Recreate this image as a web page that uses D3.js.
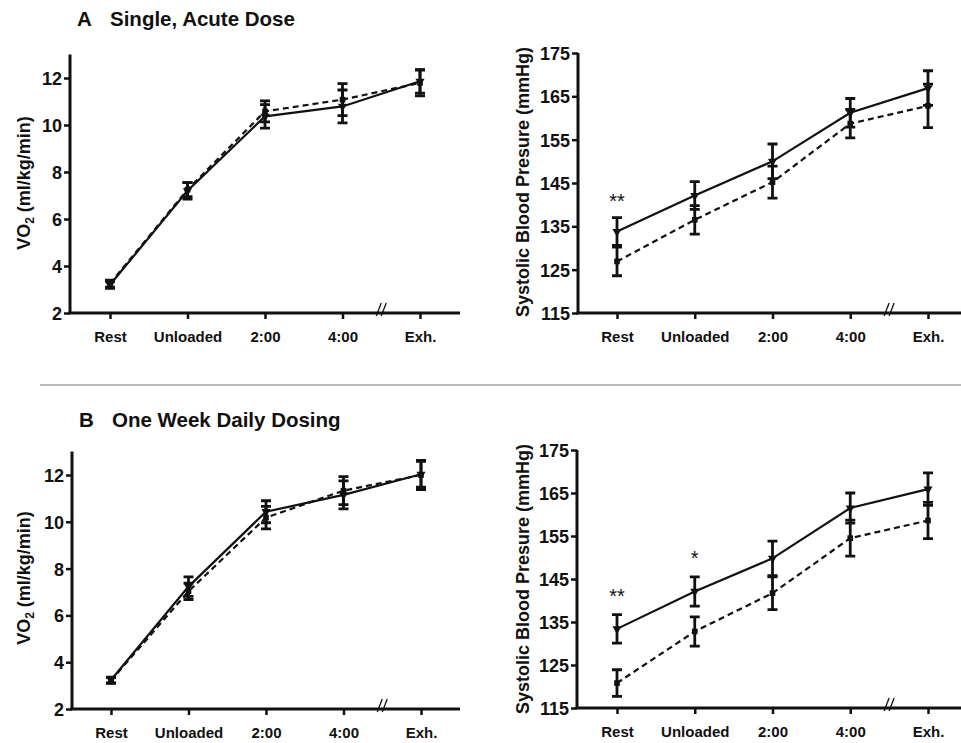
<!DOCTYPE html>
<html>
<head>
<meta charset="utf-8">
<script src="https://cdn.jsdelivr.net/npm/d3@7/dist/d3.min.js"></script>
<style>
  html, body { margin: 0; padding: 0; background: #fff; }
  svg { display: block; font-family: "Liberation Sans", Arial, sans-serif; }
  .tick-lab { font-weight: bold; font-size: 18px; fill: #111; }
  .x-lab { font-weight: bold; font-size: 15px; fill: #111; }
  .y-title { font-weight: bold; font-size: 18px; fill: #111; }
  .p-title { font-weight: bold; font-size: 20.5px; fill: #111; }
  .star { font-size: 20px; fill: #111; }
</style>
</head>
<body>
<div id="chart"></div>
<script>
// categories along the exercise protocol
const stages = ["Rest", "Unloaded", "2:00", "4:00", "Exh."];
const vo2Ticks = [2, 4, 6, 8, 10, 12];
const sbpTicks = [115, 125, 135, 145, 155, 165, 175];

// A: single acute dose (solid / dashed), mean and error
const vo2A_solid = [3.2, 7.2, 10.37, 10.79, 11.86];
const vo2A_solidErr = [0.15, 0.35, 0.5, 0.7, 0.5];
const vo2A_dash = [3.25, 7.25, 10.58, 11.08, 11.79];
const vo2A_dashErr = [0.15, 0.3, 0.45, 0.68, 0.55];
const sbpA_solid = [133.8, 142.1, 150.0, 161.2, 166.9];
const sbpA_solidErr = [3.2, 3.2, 4.0, 3.3, 4.0];
const sbpA_dash = [126.9, 136.5, 145.2, 158.7, 162.8];
const sbpA_dashErr = [3.3, 3.3, 3.7, 3.3, 5.0];

// B: one week daily dosing
const vo2B_solid = [3.24, 7.23, 10.43, 11.15, 12.03];
const vo2B_solidErr = [0.12, 0.42, 0.47, 0.6, 0.55];
const vo2B_dash = [3.22, 7.03, 10.18, 11.33, 12.0];
const vo2B_dashErr = [0.12, 0.35, 0.48, 0.6, 0.62];
const sbpB_solid = [133.4, 142.1, 149.8, 161.5, 165.9];
const sbpB_solidErr = [3.3, 3.4, 4.0, 3.5, 3.8];
const sbpB_dash = [120.8, 132.8, 141.7, 154.5, 158.6];
const sbpB_dashErr = [3.1, 3.4, 3.8, 4.2, 4.2];

const starsA = [["Rest", "**"]];
const starsB = [["Rest", "**"], ["Unloaded", "*"]];

const W = 961, H = 743;
const svg = d3.select("#chart").append("svg").attr("width", W).attr("height", H);

function panel(o) {
  const g = svg.append("g");
  const x = d3.scalePoint().domain(stages).range([o.x0, o.x1]);
  const y = d3.scaleLinear().domain(o.dom).range([o.yb, o.yt]);
  const yTop = y(o.top);

  // error bars + lines
  const series = [
    { v: o.dash, e: o.dashErr, dash: "6 4", sym: d3.symbolSquare, rot: 0 },
    { v: o.solid, e: o.solidErr, dash: null, sym: d3.symbolTriangle, rot: 180 }
  ];
  series.forEach((s) => {
    const pts = stages.map((c, i) => ({ c, v: s.v[i], e: s.e[i] }));
    g.append("g").selectAll("path").data(pts).join("path")
      .attr("d", (d) => {
        const cx = x(d.c), hi = y(d.v + d.e), lo = y(d.v - d.e);
        return `M${cx},${hi}V${lo}M${cx - 5},${hi}H${cx + 5}M${cx - 5},${lo}H${cx + 5}`;
      })
      .attr("stroke", "#111").attr("stroke-width", 2.8).attr("fill", "none");
    g.append("path").datum(pts)
      .attr("d", d3.line().x((d) => x(d.c)).y((d) => y(d.v)))
      .attr("fill", "none").attr("stroke", "#111").attr("stroke-width", 2.2)
      .attr("stroke-dasharray", s.dash);
    g.append("g").selectAll("path").data(pts).join("path")
      .attr("transform", (d) => `translate(${x(d.c)},${y(d.v)}) rotate(${s.rot})`)
      .attr("d", d3.symbol().type(s.sym).size(s.sym === d3.symbolSquare ? 32 : 36))
      .attr("fill", "#111");
  });

  // y axis
  const ya = g.append("g").attr("transform", `translate(${o.ax},0)`)
    .call(d3.axisLeft(y).tickValues(o.ticks).tickSize(6).tickSizeOuter(0).tickPadding(2));
  ya.select(".domain").attr("d", `M0,${yTop}V${o.yb}`).attr("stroke", "#111").attr("stroke-width", 3);
  ya.selectAll(".tick line").attr("stroke", "#111").attr("stroke-width", 2.5);
  ya.selectAll(".tick text").attr("class", "tick-lab").attr("dy", "0.36em");

  // x axis
  const xa = g.append("g").attr("transform", `translate(0,${o.yb})`)
    .call(d3.axisBottom(x).tickSize(6).tickSizeOuter(0).tickPadding(12));
  xa.select(".domain").attr("d", `M${o.ax - 1.5},0H${o.xEnd}`).attr("stroke", "#111").attr("stroke-width", 3);
  xa.selectAll(".tick line").attr("stroke", "#111").attr("stroke-width", 2.5);
  xa.selectAll(".tick text").attr("class", "x-lab").attr("dy", o.xdy);

  // axis break mark
  const bx = (x("4:00") + x("Exh.")) / 2;
  [-2.5, 2.5].forEach((dx) => {
    g.append("line").attr("x1", bx + dx - 2.5).attr("y1", o.yb + 3)
      .attr("x2", bx + dx + 2.5).attr("y2", o.yb - 10)
      .attr("stroke", "#111").attr("stroke-width", 1.3);
  });

  // y title
  const t = g.append("text").attr("class", "y-title").attr("text-anchor", "middle")
    .attr("transform", `translate(${o.tx},${o.ty}) rotate(-90)`);
  if (o.vo2) {
    t.append("tspan").text("VO");
    t.append("tspan").attr("font-size", "12px").attr("dy", "4").text("2");
    t.append("tspan").attr("dy", "-4").text(" (ml/kg/min)");
  } else {
    t.text(o.label);
  }

  // significance stars
  if (o.stars) {
    g.selectAll(".star").data(o.stars).join("text").attr("class", "star")
      .attr("text-anchor", "middle").attr("x", (d) => x(d[0]))
      .attr("y", (d, i) => o.starY[i]).text((d) => d[1]);
  }
}

// panel titles and divider
function title(x, y, letter, text) {
  const t = svg.append("text").attr("class", "p-title").attr("y", y);
  t.append("tspan").attr("x", x).text(letter);
  t.append("tspan").attr("x", x + 33).text(text);
}
title(77, 26, "A", "Single, Acute Dose");
title(79, 427, "B", "One Week Daily Dosing");
svg.append("line").attr("x1", 40).attr("x2", W).attr("y1", 385).attr("y2", 385)
  .attr("stroke", "#777").attr("stroke-width", 1.2);

panel({ ax: 70, x0: 110, x1: 420, xEnd: 460, yb: 313, yt: 78, dom: [2, 12], top: 13, ticks: vo2Ticks,
  solid: vo2A_solid, solidErr: vo2A_solidErr, dash: vo2A_dash, dashErr: vo2A_dashErr,
  vo2: true, tx: 30, ty: 183, xdy: "0.71em" });
panel({ ax: 578, x0: 617, x1: 928, xEnd: 961, yb: 313, yt: 53, dom: [115, 175], top: 175, ticks: sbpTicks,
  solid: sbpA_solid, solidErr: sbpA_solidErr, dash: sbpA_dash, dashErr: sbpA_dashErr,
  label: "Systolic Blood Presure (mmHg)", tx: 529, ty: 182, xdy: "0.71em",
  stars: starsA, starY: [208] });
panel({ ax: 72, x0: 111, x1: 421, xEnd: 460, yb: 709, yt: 475, dom: [2, 12], top: 13, ticks: vo2Ticks,
  solid: vo2B_solid, solidErr: vo2B_solidErr, dash: vo2B_dash, dashErr: vo2B_dashErr,
  vo2: true, tx: 30, ty: 578, xdy: "0.71em" });
panel({ ax: 577, x0: 617, x1: 928, xEnd: 961, yb: 708, yt: 450, dom: [115, 175], top: 175, ticks: sbpTicks,
  solid: sbpB_solid, solidErr: sbpB_solidErr, dash: sbpB_dash, dashErr: sbpB_dashErr,
  label: "Systolic Blood Presure (mmHg)", tx: 529, ty: 579, xdy: "0.71em",
  stars: starsB, starY: [603, 565] });
</script>
</body>
</html>
